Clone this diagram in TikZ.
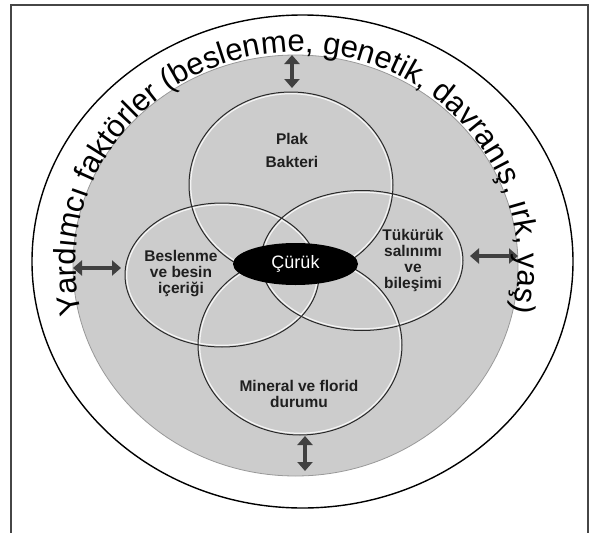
\documentclass[tikz,border=0pt]{standalone}
\usepackage{fontspec}
\setmainfont{Liberation Sans}
\newfontfamily\labfont{Liberation Sans}
\newfontfamily\arcfont{Liberation Sans}
\usetikzlibrary{arrows.meta,decorations.text,shapes.geometric}
\definecolor{ringgray}{RGB}{204,204,204}
\definecolor{arrowgray}{RGB}{64,64,64}
\definecolor{edgegray}{RGB}{40,40,40}
\definecolor{framegray}{RGB}{70,70,70}
\tikzset{
  venn/.style={draw=edgegray, line width=1pt},
  glow/.style={draw=white, line width=1.2pt, opacity=0.8},
  lab/.style={font=\labfont\bfseries\fontsize{15.5}{16}\selectfont, align=center, text=black!88, inner sep=0pt},
  dblarrow/.style={draw=arrowgray, line width=4pt,
    {Triangle[length=9pt,width=15pt]}-{Triangle[length=9pt,width=15pt]}},
}
\begin{document}
\begin{tikzpicture}[x=1pt,y=-1pt]
\useasboundingbox (0,0) rectangle (595,533);
\fill[white] (0,0) rectangle (595,533);
% frame
\draw[framegray, line width=1.1pt] (11,533) -- (11,5) -- (588,5) -- (588,533);
% outer white ring
\draw[black, line width=1.4pt, fill=white] (302.5,261.5) ellipse [x radius=270.5, y radius=246.5];
% gray disk
\draw[fill=ringgray, draw=gray!80, line width=0.8pt] (295.5,265.5) ellipse [x radius=222.5, y radius=210.5];
% highlights
\draw[glow] (291,185) ellipse [x radius=100.3, y radius=91.3];
\draw[glow] (222,275) ellipse [x radius=95.3, y radius=70.3];
\draw[glow] (362,260.5) ellipse [x radius=99.3, y radius=68.3];
\draw[glow] (300,345) ellipse [x radius=100.3, y radius=88.3];
% venn outlines
\draw[venn] (291,185) ellipse [x radius=102, y radius=93];
\draw[venn] (222,275) ellipse [x radius=97, y radius=72];
\draw[venn] (362,260.5) ellipse [x radius=101, y radius=70];
\draw[venn] (300,345) ellipse [x radius=102, y radius=90];
% central node
\node[ellipse, fill=black, minimum width=125pt, minimum height=42pt, inner sep=0pt,
      text=white, font=\labfont\fontsize{18}{18}\selectfont] (curuk) at (295.5,264) {Çürük};
% labels
\node[lab] (plak) at (292,150) {Plak\\[7pt]Bakteri};
\node[lab] (beslenme) at (181,274) {Beslenme\\ve besin\\içeriği};
\node[lab] (tukuruk) at (413,260) {Tükürük\\salınımı\\ve\\bileşimi};
\node[lab] (mineral) at (299,394) {Mineral ve florid\\durumu};
% arrows
\coordinate (lA) at (73,268);  \coordinate (lB) at (121,268);
\coordinate (rA) at (470,256); \coordinate (rB) at (518,256);
\coordinate (tA) at (292,55);  \coordinate (tB) at (292,88);
\coordinate (bA) at (305,436); \coordinate (bB) at (305,471);
\draw[dblarrow] (lA) -- (lB);
\draw[dblarrow] (rA) -- (rB);
\draw[dblarrow] (tA) -- (tB);
\draw[dblarrow] (bA) -- (bB);
% arc text
\path[decorate, decoration={text along path,
   text={|\arcfont\fontsize{31}{31}\selectfont|Yardımcı faktörler (beslenme, genetik, davranış, ırk, yaş)},
   text align={fit to path}}]
   (297,264) ++(-193.5:221 and 212) arc [start angle=-193.5, end angle=13, x radius=221, y radius=212];
\end{tikzpicture}
\end{document}
